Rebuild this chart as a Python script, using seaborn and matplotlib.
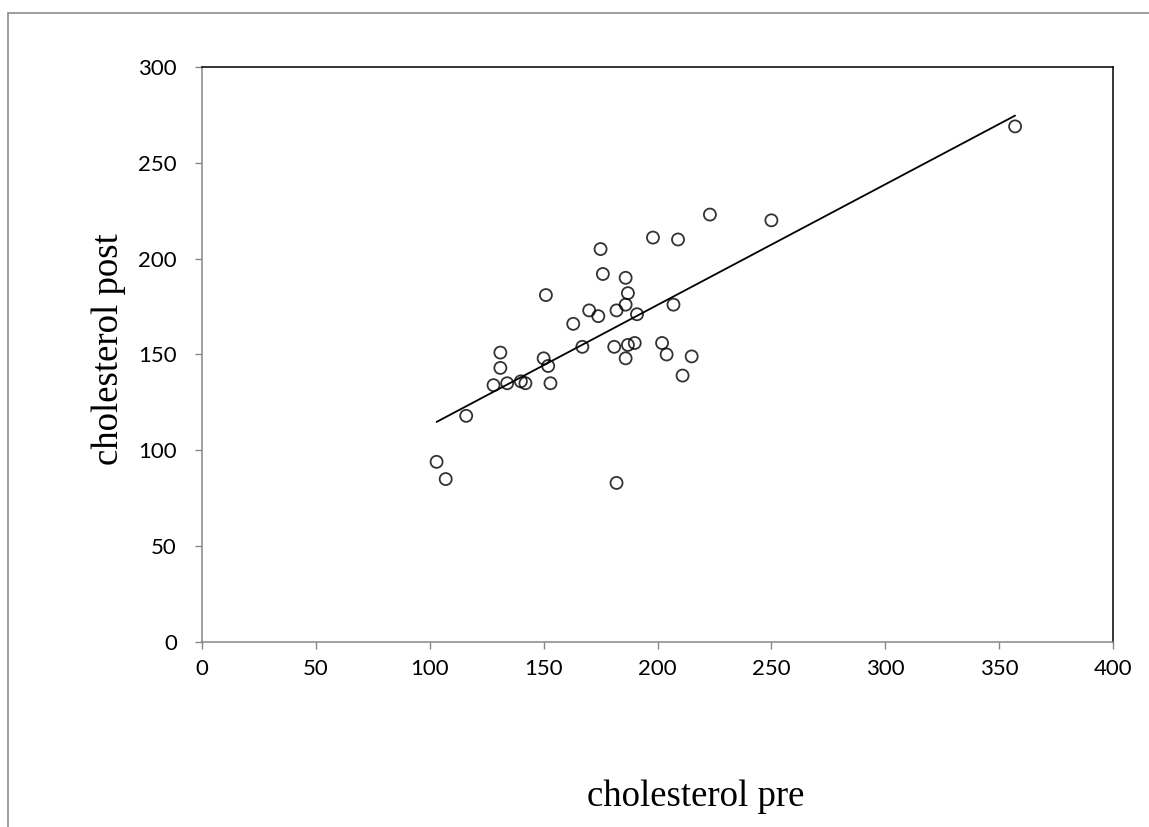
import numpy as np
import pandas as pd
import matplotlib
matplotlib.use("Agg")
import matplotlib.pyplot as plt
from matplotlib.lines import Line2D
import seaborn as sns

# Valores
pre = [223, 198, 209, 175, 176, 186, 187, 151, 186, 207,
       170, 182, 174, 191, 163, 167, 181, 187, 190, 202,
       204, 215, 186, 211, 131, 131, 150, 152, 128, 134,
       140, 142, 153, 116, 103, 107, 182, 357, 250]
post = [223, 211, 210, 205, 192, 190, 182, 181, 176, 176,
        173, 173, 170, 171, 166, 154, 154, 155, 156, 156,
        150, 149, 148, 139, 151, 143, 148, 144, 134, 135,
        136, 135, 135, 118, 94, 85, 83, 269, 220]

x_ticks = [0, 50, 100, 150, 200, 250, 300, 350, 400]
y_ticks = [0, 50, 100, 150, 200, 250, 300]

df = pd.DataFrame({'pre': pre, 'post': post})

sns.set_theme(style="white")
plt.rcParams['font.family'] = ['Lato', 'DejaVu Sans']

fig = plt.figure(figsize=(11.49, 8.27), dpi=100)
ax = fig.add_axes([0.1758, 0.2237, 0.9687 - 0.1758, 0.919 - 0.2237])

sns.regplot(data=df, x='pre', y='post', ax=ax, ci=None, truncate=True,
            scatter_kws={'s': 75, 'facecolors': 'none', 'edgecolors': 'black',
                         'linewidths': 1.3},
            line_kws={'color': 'black', 'linewidth': 1.3})

ax.set_xlim(0, 400)
ax.set_ylim(0, 300)
ax.set_xticks(x_ticks)
ax.set_yticks(y_ticks)
ax.tick_params(axis='x', direction='out', length=5, width=1, color='#868686',
               labelsize=16, labelcolor='black', pad=7, bottom=True)
ax.tick_params(axis='y', direction='out', length=5, width=1, color='#868686',
               labelsize=16, labelcolor='black', pad=13, left=True)

for s in ['left', 'bottom']:
    ax.spines[s].set_color('#868686')
    ax.spines[s].set_linewidth(1.1)
for s in ['top', 'right']:
    ax.spines[s].set_color('black')
    ax.spines[s].set_linewidth(1.1)

ax.set_xlabel('')
ax.set_ylabel('')
fig.text(695.5 / 1149, 1 - 797 / 827, 'cholesterol pre', family='Liberation Serif',
         fontsize=26.5, ha='center', va='center', color='black')
fig.text(109 / 1149, 1 - 349 / 827, 'cholesterol post', family='Liberation Serif',
         fontsize=26.5, ha='center', va='center', rotation=90, color='black')

# marco exterior (solo arriba e izquierda visibles)
fig.add_artist(Line2D([8 / 1149, 1], [1 - 13 / 827, 1 - 13 / 827],
                      transform=fig.transFigure, color='#8c8c8c', linewidth=1.2))
fig.add_artist(Line2D([8 / 1149, 8 / 1149], [0, 1 - 13 / 827],
                      transform=fig.transFigure, color='#8c8c8c', linewidth=1.2))

fig.savefig('out.png', dpi=100)
